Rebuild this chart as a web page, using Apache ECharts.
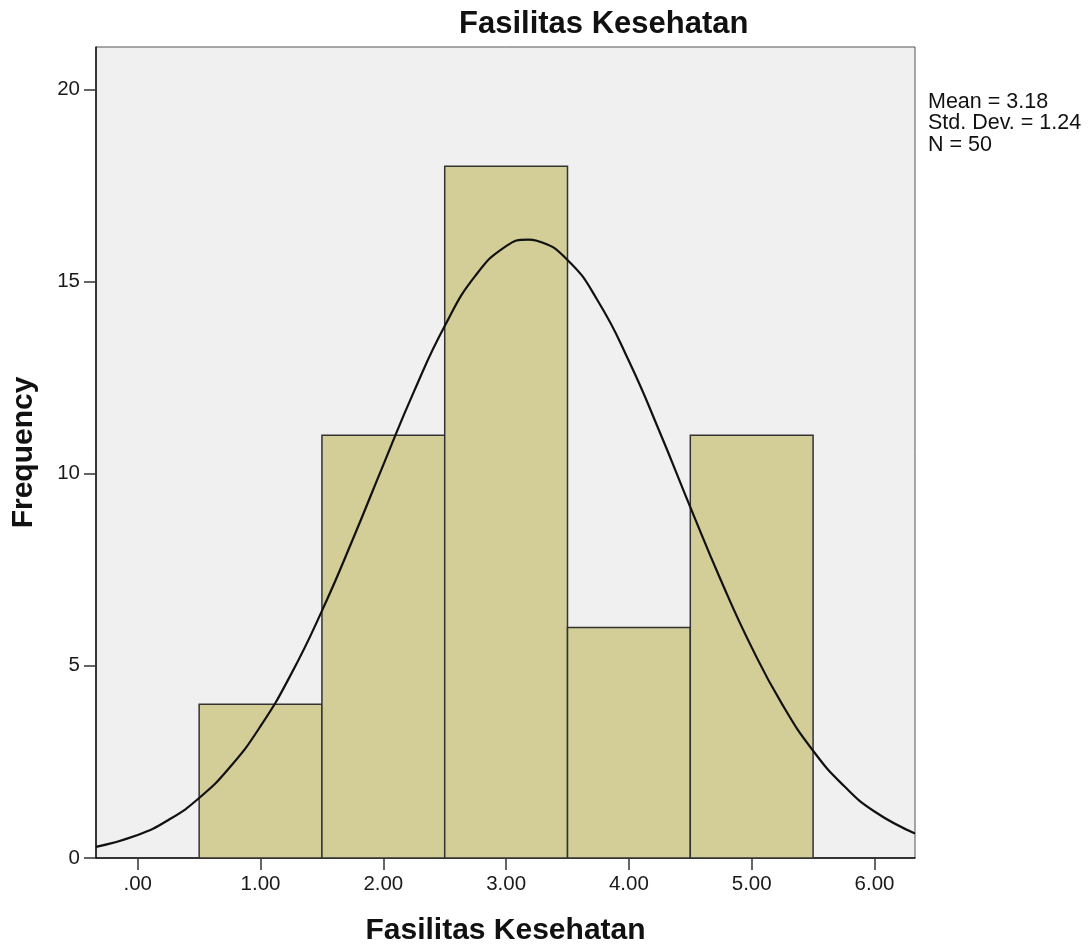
<!DOCTYPE html>
<html>
<head>
<meta charset="utf-8">
<script src="https://cdn.jsdelivr.net/npm/echarts@6/dist/echarts.min.js"></script>
<style>
  html, body { margin: 0; padding: 0; background: #fff; }
  #chart { width: 1088px; height: 951px; }
</style>
</head>
<body>
<div id="chart"></div>
<script>
// histogram bins (lower edge, upper edge) and frequencies
var binStart = [0.5, 1.5, 2.5, 3.5, 4.5];
var binEnd = [1.5, 2.5, 3.5, 4.5, 5.5];
var counts = [4, 11, 18, 6, 11];

// normal curve
var curveX = [-0.34, 0, 0.25, 0.5, 0.75, 1, 1.25, 1.5, 1.75, 2, 2.25, 2.5, 2.75, 3, 3.18, 3.25, 3.5, 3.75, 4, 4.25, 4.5, 4.75, 5, 5.25, 5.5, 5.75, 6, 6.33];
var curveY = [0.29, 0.6, 0.99, 1.56, 2.36, 3.43, 4.79, 6.43, 8.28, 10.23, 12.14, 13.84, 15.15, 15.92, 16.09, 16.06, 15.56, 14.48, 12.93, 11.09, 9.13, 7.22, 5.48, 3.99, 2.79, 1.88, 1.21, 0.64];

var xTicks = [0, 1, 2, 3, 4, 5, 6];
var yTicks = [0, 5, 10, 15, 20];

var meanVal = '3.18';
var sdVal = '1.24';
var nVal = '50';

var font = 'Liberation Sans, Arial, sans-serif';

var el = document.getElementById('chart');
var myChart = echarts.init(el);

var barData = [];
for (var i = 0; i < counts.length; i++) {
  barData.push([binStart[i], binEnd[i], counts[i]]);
}
var lineData = [];
for (var j = 0; j < curveX.length; j++) {
  lineData.push([curveX[j], curveY[j]]);
}

var option = {
  backgroundColor: '#fff',
  animation: false,
  title: [
    {
      text: 'Fasilitas Kesehatan',
      left: 454,
      top: 4,
      textStyle: { fontFamily: font, fontSize: 31, fontWeight: 'bold', color: '#111' }
    },
    {
      text: 'Mean = ' + meanVal + '\nStd. Dev. = ' + sdVal + '\nN = ' + nVal,
      left: 928,
      top: 91,
      padding: 0,
      textStyle: { fontFamily: font, fontSize: 21.5, fontWeight: 'normal', color: '#111', lineHeight: 21.7 }
    }
  ],
  grid: {
    left: 96,
    right: 173,
    top: 47,
    bottom: 92,
    show: true,
    backgroundColor: '#f0f0f0',
    borderColor: '#555',
    borderWidth: 1
  },
  xAxis: {
    type: 'value',
    min: -0.34,
    max: 6.33,
    name: 'Fasilitas Kesehatan',
    nameLocation: 'middle',
    nameGap: 58,
    nameTextStyle: { fontFamily: font, fontSize: 30, fontWeight: 'bold', color: '#111' },
    axisLine: { show: true, onZero: false, lineStyle: { color: '#111', width: 1.5 } },
    axisTick: { show: true, length: 12, customValues: xTicks, lineStyle: { color: '#333', width: 1.5 } },
    axisLabel: {
      customValues: xTicks,
      margin: 16,
      fontFamily: font,
      fontSize: 20.5,
      color: '#1a1a1a',
      formatter: function (v) {
        var s = v.toFixed(2);
        return s.charAt(0) === '0' ? s.slice(1) : s;
      }
    },
    splitLine: { show: false }
  },
  yAxis: {
    type: 'value',
    min: 0,
    max: 21.1,
    name: 'Frequency',
    nameLocation: 'middle',
    nameGap: 57,
    nameTextStyle: { fontFamily: font, fontSize: 30, fontWeight: 'bold', color: '#111' },
    axisLine: { show: true, onZero: false, lineStyle: { color: '#111', width: 1.5 } },
    axisTick: { show: true, length: 12, customValues: yTicks, lineStyle: { color: '#333', width: 1.5 } },
    axisLabel: { customValues: yTicks, margin: 16, fontFamily: font, fontSize: 20.5, color: '#1a1a1a' },
    splitLine: { show: false }
  },
  series: [
    {
      type: 'custom',
      data: barData,
      z: 2,
      renderItem: function (params, api) {
        var p0 = api.coord([api.value(0), api.value(2)]);
        var p1 = api.coord([api.value(1), 0]);
        return {
          type: 'rect',
          shape: { x: p0[0], y: p0[1], width: p1[0] - p0[0], height: p1[1] - p0[1] },
          style: { fill: '#d3ce98', stroke: '#333', lineWidth: 1.5 }
        };
      }
    },
    {
      type: 'line',
      data: lineData,
      smooth: true,
      symbol: 'none',
      z: 3,
      lineStyle: { color: '#111', width: 2.2 }
    }
  ]
};

myChart.setOption(option);
window.addEventListener('resize', function () {
  myChart.resize();
});
</script>
</body>
</html>
